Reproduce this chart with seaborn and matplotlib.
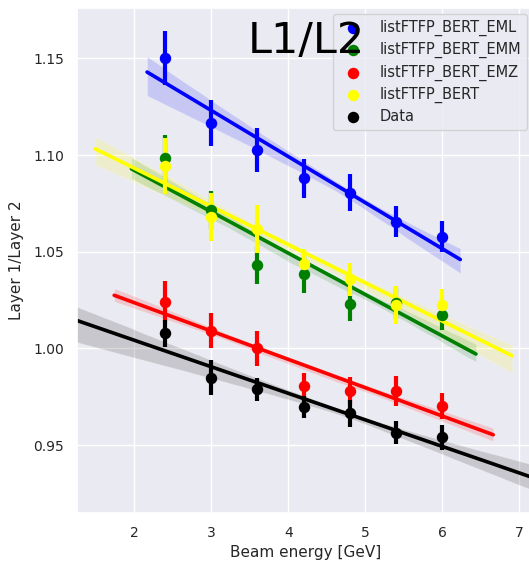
import numpy as np
import matplotlib
matplotlib.use("Agg")
import matplotlib.pyplot as plt
import seaborn as sns

energy = [2.4, 3.0, 3.6, 4.2, 4.8, 5.4, 6.0]

labels = ["listFTFP_BERT_EML", "listFTFP_BERT_EMM", "listFTFP_BERT_EMZ",
          "listFTFP_BERT", "Data"]
colors = ["blue", "green", "red", "yellow", "black"]

eml = [1.1500, 1.1165, 1.1026, 1.0880, 1.0806, 1.0656, 1.0578]
eml_err = [0.0140, 0.0120, 0.0116, 0.0100, 0.0095, 0.0082, 0.0080]

emm = [1.0983, 1.0715, 1.0431, 1.0384, 1.0228, 1.0235, 1.0172]
emm_err = [0.0120, 0.0100, 0.0100, 0.0100, 0.0085, 0.0085, 0.0077]

emz = [1.0241, 1.0091, 1.0000, 0.9805, 0.9779, 0.9779, 0.9702]
emz_err = [0.0108, 0.0090, 0.0090, 0.0070, 0.0074, 0.0078, 0.0068]

bert = [1.0943, 1.0678, 1.0616, 1.0435, 1.0357, 1.0225, 1.0224]
bert_err = [0.0147, 0.0125, 0.0125, 0.0080, 0.0087, 0.0097, 0.0081]

data = [1.0078, 0.9848, 0.9788, 0.9698, 0.9664, 0.9564, 0.9540]
data_err = [0.0069, 0.0090, 0.0060, 0.0056, 0.0069, 0.0059, 0.0065]

series = [eml, emm, emz, bert, data]
errors = [eml_err, emm_err, emz_err, bert_err, data_err]

# style: confidence level of each regression band
band_ci = [75, 40, 50, 60, 68]

sns.set_theme(style="darkgrid", rc={
    "lines.linewidth": 1.75,
    "xtick.labelsize": 10, "ytick.labelsize": 10,
    "axes.labelsize": 11, "legend.fontsize": 10.5,
})
plt.rcParams["font.family"] = ["DejaVu Sans"]

fig = plt.figure(figsize=(5.29, 5.62), dpi=100)
ax = fig.add_axes([77.3 / 529, (562 - 512.7) / 562,
                   (533 - 77.3) / 529, (512.7 - 8.3) / 562])

XLIM = (1.2597, 7.178)
YLIM = (0.915, 1.1759)

cur = None
for vals, errs, lab, col, bci in zip(series, errors, labels, colors, band_ci):
    ax.errorbar(energy, vals, yerr=errs, fmt="none", ecolor=col,
                elinewidth=3.0, capsize=0, zorder=2)
    ax.scatter(energy, vals, s=68, color=col, linewidths=0, label=lab, zorder=3)
    # emulate the old autoscaling: each fitted line spans the axis range
    # at the time it was drawn, which grew by the default 5 % margin
    if cur is None:
        ax.margins(x=0.065)
        cur = ax.get_xlim()
    else:
        span = cur[1] - cur[0]
        cur = (cur[0] - 0.05 * span, cur[1] + 0.05 * span)
    ax.set_xlim(*cur)
    sns.regplot(x=np.array(energy), y=np.array(vals), scatter=False,
                truncate=False, color=col, ax=ax, seed=3, ci=bci)

ax.set_xlim(*XLIM)
ax.set_ylim(*YLIM)
ax.set_xticks([2, 3, 4, 5, 6, 7])
ax.set_yticks([0.95, 1.00, 1.05, 1.10, 1.15])
ax.set_yticklabels(["0.95", "1.00", "1.05", "1.10", "1.15"])
ax.set_xlabel("Beam energy [GeV]")
ax.set_ylabel("Layer 1/Layer 2", labelpad=7)

ax.legend(loc="upper right", borderaxespad=0.4, labelspacing=0.42)
ax.text(0.3746, 0.912, "L1/L2", transform=ax.transAxes, fontsize=31,
        color="black", va="baseline", ha="left", zorder=10)

fig.savefig("out.png", dpi=100)
